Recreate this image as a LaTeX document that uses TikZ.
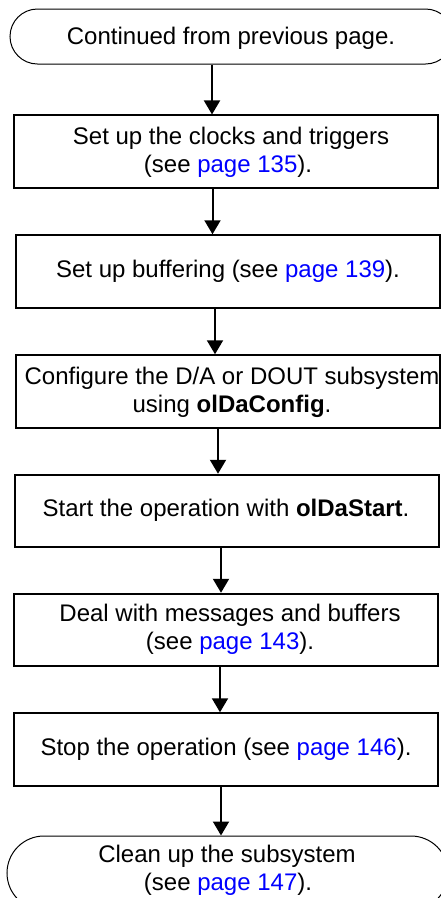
\documentclass[tikz,border=0pt]{standalone}
\usepackage{fontspec}
\setmainfont{Liberation Sans}
\usetikzlibrary{arrows.meta,shapes.misc}
\definecolor{linkblue}{RGB}{0,0,255}
\newcommand{\pref}[1]{\textcolor{linkblue}{page #1}}
\begin{document}
\begin{tikzpicture}[x=1pt,y=-1pt,
  stepbox/.style={draw, line width=2pt, rectangle, inner sep=0pt,
                  minimum width=424pt, minimum height=72.5pt},
  endcap/.style={draw, line width=1pt, rounded rectangle, inner sep=0pt},
  txt/.style={anchor=base, inner sep=0pt, font=\fontsize{24}{28}\selectfont},
  flow/.style={line width=2pt, -{Triangle[width=16pt,length=14pt]}}]
\useasboundingbox (0,0) rectangle (441,898);
\clip (0,0) rectangle (441,898);

% terminals and process boxes
\node[endcap, minimum width=443pt, minimum height=55pt] (start) at (231.5,36.5) {};
\node[stepbox] (b1) at (226,151.7) {};
\node[stepbox] (b2) at (228,271.5) {};
\node[stepbox] (b3) at (228,391.5) {};
\node[stepbox] (b4) at (227,511) {};
\node[stepbox] (b5) at (226,630) {};
\node[stepbox] (b6) at (226,749.5) {};
\node[endcap, minimum width=441pt, minimum height=74pt] (stop) at (227.5,873) {};

% texts
\node[txt] (t0) at (231,44) {Continued from previous page.};
\node[txt] (t1a) at (231,144) {Set up the clocks and triggers};
\node[txt] (t1b) at (228,172.5) {(see \pref{135}).};
\node[txt] (t2) at (228,277) {Set up buffering (see \pref{139}).};
\node[txt] (t3a) at (232,384.5) {Configure the D/A or DOUT subsystem};
\node[txt] (t3b) at (232,412) {using \textbf{olDaConfig}.};
\node[txt] (t4) at (226,516.7) {Start the operation with \textbf{olDaStart}.};
\node[txt] (t5a) at (230,621.7) {Deal with messages and buffers};
\node[txt] (t5b) at (230,649.5) {(see \pref{143}).};
\node[txt] (t6) at (226,755) {Stop the operation (see \pref{146}).};
\node[txt] (t7a) at (227,862) {Clean up the subsystem};
\node[txt] (t7b) at (228,890) {(see \pref{147}).};

% connector columns
\coordinate (c1) at (212,0);
\coordinate (c2) at (212.5,0);
\coordinate (c3) at (215,0);
\coordinate (c4) at (218,0);
\coordinate (c5) at (221,0);
\coordinate (c6) at (220,0);
\coordinate (c7) at (221,0);

\draw[flow] (start.south -| c1) -- (b1.north -| c1);
\draw[flow] (b1.south -| c2) -- (b2.north -| c2);
\draw[flow] (b2.south -| c3) -- (b3.north -| c3);
\draw[flow] (b3.south -| c4) -- (b4.north -| c4);
\draw[flow] (b4.south -| c5) -- (b5.north -| c5);
\draw[flow] (b5.south -| c6) -- (b6.north -| c6);
\draw[flow] (b6.south -| c7) -- (stop.north -| c7);
\end{tikzpicture}
\end{document}
